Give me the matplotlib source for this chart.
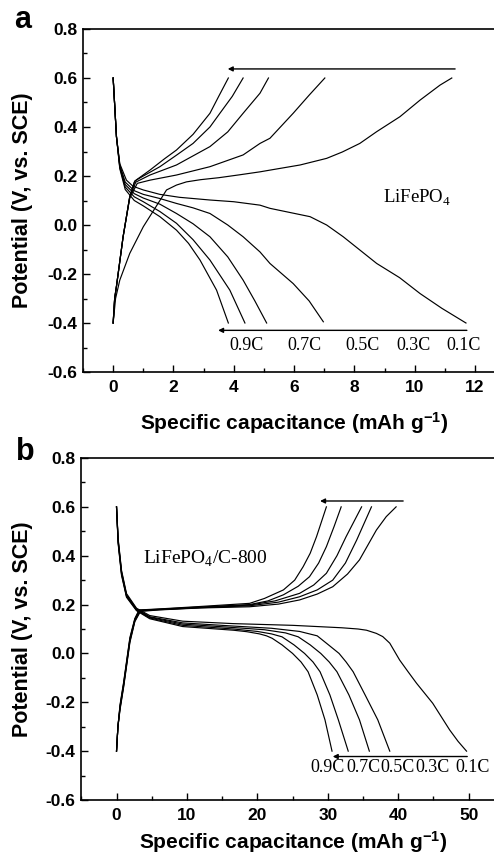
import matplotlib
matplotlib.use("Agg")
import matplotlib.pyplot as plt
from matplotlib.ticker import MultipleLocator

plt.rcParams["font.family"] = ["Liberation Sans", "DejaVu Sans"]
plt.rcParams["font.weight"] = "bold"
plt.rcParams["mathtext.fontset"] = "custom"
plt.rcParams["mathtext.rm"] = "Liberation Sans:bold"
plt.rcParams["mathtext.bf"] = "Liberation Sans:bold"
plt.rcParams["mathtext.it"] = "Liberation Sans:bold"

# ---------------- Panel a : LiFePO4 ----------------
rates = ["0.1C", "0.3C", "0.5C", "0.7C", "0.9C"]

a_dis_q_01 = [0, 0.11, 0.22, 0.44, 0.66, 1.0, 1.55, 2.2, 3.21, 4.0, 4.87, 5.2, 6.53, 7.08, 7.63, 8.74, 9.5, 10.18, 10.9, 11.7]
a_dis_v_01 = [0.6, 0.36, 0.25, 0.183, 0.158, 0.143, 0.125, 0.113, 0.102, 0.095, 0.081, 0.068, 0.034, 0.0, -0.048, -0.157, -0.215, -0.28, -0.34, -0.4]
a_dis_q_03 = [0, 0.11, 0.22, 0.4, 0.7, 1.0, 1.55, 2.1, 2.65, 3.21, 3.8, 4.31, 4.87, 5.2, 5.97, 6.5, 6.97]
a_dis_v_03 = [0.6, 0.36, 0.245, 0.175, 0.14, 0.125, 0.108, 0.088, 0.07, 0.047, 0.0, -0.048, -0.11, -0.157, -0.239, -0.31, -0.395]
a_dis_q_05 = [0, 0.11, 0.22, 0.4, 0.7, 1.0, 1.55, 2.1, 2.65, 3.21, 3.8, 4.31, 4.7, 5.09]
a_dis_v_05 = [0.6, 0.36, 0.24, 0.165, 0.128, 0.11, 0.085, 0.047, 0.005, -0.048, -0.13, -0.225, -0.31, -0.4]
a_dis_q_07 = [0, 0.11, 0.22, 0.4, 0.7, 1.0, 1.55, 2.1, 2.65, 3.21, 3.87, 4.37]
a_dis_v_07 = [0.6, 0.36, 0.235, 0.155, 0.115, 0.095, 0.055, 0.007, -0.06, -0.143, -0.266, -0.4]
a_dis_q_09 = [0, 0.11, 0.22, 0.4, 0.7, 1.0, 1.55, 2.1, 2.5, 2.88, 3.43, 3.82]
a_dis_v_09 = [0.6, 0.36, 0.23, 0.145, 0.1, 0.078, 0.034, -0.021, -0.075, -0.143, -0.266, -0.4]

a_chg_q_01 = [0, 0.08, 0.22, 0.55, 1.0, 1.55, 1.77, 2.1, 2.43, 2.9, 3.5, 4.2, 4.87, 5.2, 6.2, 7.08, 7.6, 8.18, 8.74, 9.51, 10.18, 10.84, 11.23]
a_chg_v_01 = [-0.4, -0.3, -0.225, -0.116, -0.007, 0.1, 0.143, 0.163, 0.176, 0.185, 0.193, 0.205, 0.217, 0.224, 0.245, 0.272, 0.298, 0.333, 0.381, 0.442, 0.51, 0.571, 0.6]
a_chg_q_03 = [0, 0.05, 0.11, 0.33, 0.55, 0.8, 1.22, 2.1, 3.21, 4.31, 4.87, 5.2, 5.97, 6.5, 7.02]
a_chg_v_03 = [-0.4, -0.3, -0.25, -0.048, 0.11, 0.17, 0.183, 0.204, 0.238, 0.286, 0.333, 0.354, 0.456, 0.53, 0.6]
a_chg_q_05 = [0, 0.05, 0.11, 0.33, 0.55, 0.75, 1.22, 2.1, 3.21, 3.8, 4.31, 4.87, 5.15]
a_chg_v_05 = [-0.4, -0.3, -0.25, -0.048, 0.115, 0.175, 0.204, 0.245, 0.32, 0.38, 0.456, 0.538, 0.6]
a_chg_q_07 = [0, 0.05, 0.11, 0.33, 0.55, 0.72, 1.0, 1.55, 2.1, 2.65, 3.21, 3.54, 3.95, 4.31]
a_chg_v_07 = [-0.4, -0.3, -0.25, -0.048, 0.115, 0.18, 0.2, 0.238, 0.285, 0.333, 0.4, 0.456, 0.525, 0.6]
a_chg_q_09 = [0, 0.05, 0.11, 0.33, 0.55, 0.7, 0.78, 1.22, 1.7, 2.1, 2.65, 3.21, 3.5, 3.82]
a_chg_v_09 = [-0.4, -0.3, -0.25, -0.048, 0.115, 0.175, 0.185, 0.224, 0.27, 0.306, 0.37, 0.456, 0.525, 0.6]

# ---------------- Panel b : LiFePO4/C-800 ----------------
b_dis_q_01 = [0, 0.23, 0.71, 1.42, 2.84, 4.72, 9.4, 16.6, 25.0, 32.0, 34.3, 35.5, 36.9, 37.8, 38.8, 40.2, 41.4, 42.6, 44.9, 47.3, 48.5, 49.7]
b_dis_v_01 = [0.6, 0.47, 0.34, 0.245, 0.185, 0.155, 0.132, 0.122, 0.115, 0.105, 0.1, 0.095, 0.082, 0.069, 0.042, -0.027, -0.075, -0.122, -0.204, -0.313, -0.36, -0.4]
b_dis_q_03 = [0, 0.23, 0.71, 1.42, 2.84, 4.72, 9.4, 16.6, 22.0, 26.0, 28.5, 30.1, 31.6, 32.6, 33.6, 35.3, 37.1, 38.8]
b_dis_v_03 = [0.6, 0.465, 0.335, 0.24, 0.182, 0.15, 0.125, 0.112, 0.103, 0.09, 0.072, 0.035, 0.0, -0.035, -0.075, -0.17, -0.272, -0.4]
b_dis_q_05 = [0, 0.23, 0.71, 1.42, 2.84, 4.72, 9.4, 16.6, 21.0, 24.0, 25.8, 27.5, 29.0, 30.2, 31.3, 33.0, 34.5, 35.9]
b_dis_v_05 = [0.6, 0.46, 0.33, 0.237, 0.18, 0.148, 0.12, 0.106, 0.097, 0.084, 0.068, 0.035, 0.0, -0.035, -0.075, -0.17, -0.272, -0.4]
b_dis_q_07 = [0, 0.23, 0.71, 1.42, 2.84, 4.72, 9.4, 16.6, 20.0, 22.0, 23.5, 25.2, 26.7, 27.9, 28.9, 30.3, 31.5, 32.9]
b_dis_v_07 = [0.6, 0.455, 0.325, 0.233, 0.177, 0.145, 0.115, 0.1, 0.09, 0.08, 0.068, 0.035, 0.0, -0.035, -0.075, -0.17, -0.272, -0.4]
b_dis_q_09 = [0, 0.23, 0.71, 1.42, 2.84, 4.72, 9.4, 16.6, 18.5, 20.3, 21.3, 22.1, 23.5, 25.0, 26.2, 27.2, 28.5, 29.6, 30.6]
b_dis_v_09 = [0.6, 0.45, 0.32, 0.23, 0.175, 0.142, 0.11, 0.095, 0.089, 0.08, 0.072, 0.062, 0.035, 0.0, -0.035, -0.075, -0.17, -0.272, -0.4]

b_chg_q_01 = [0, 0.2, 0.5, 1.0, 1.9, 2.6, 3.4, 6.0, 11.8, 18.9, 23.0, 26.0, 28.5, 30.7, 32.8, 34.5, 36.9, 38.3, 39.7]
b_chg_v_01 = [-0.4, -0.3, -0.23, -0.14, 0.045, 0.13, 0.172, 0.178, 0.186, 0.191, 0.202, 0.219, 0.243, 0.273, 0.325, 0.383, 0.505, 0.56, 0.6]
b_chg_q_03 = [0, 0.2, 0.5, 1.0, 1.9, 2.6, 3.35, 6.0, 11.8, 18.9, 23.0, 26.0, 28.5, 30.7, 32.5, 34.1, 36.2]
b_chg_v_03 = [-0.4, -0.3, -0.225, -0.135, 0.05, 0.133, 0.174, 0.179, 0.187, 0.195, 0.21, 0.232, 0.26, 0.30, 0.37, 0.464, 0.6]
b_chg_q_05 = [0, 0.2, 0.5, 1.0, 1.9, 2.6, 3.3, 6.0, 11.8, 18.9, 22.5, 26.0, 28.0, 29.8, 31.3, 32.6, 34.8]
b_chg_v_05 = [-0.4, -0.3, -0.22, -0.13, 0.055, 0.137, 0.176, 0.18, 0.188, 0.198, 0.215, 0.246, 0.28, 0.328, 0.4, 0.478, 0.6]
b_chg_q_07 = [0, 0.2, 0.5, 1.0, 1.9, 2.6, 3.25, 6.0, 11.8, 18.9, 21.5, 23.7, 25.8, 27.4, 28.7, 29.8, 30.9, 31.9]
b_chg_v_07 = [-0.4, -0.3, -0.215, -0.125, 0.06, 0.14, 0.177, 0.181, 0.19, 0.2, 0.215, 0.24, 0.275, 0.314, 0.37, 0.437, 0.52, 0.6]
b_chg_q_09 = [0, 0.2, 0.5, 1.0, 1.9, 2.6, 3.2, 6.0, 11.8, 18.9, 21.0, 23.7, 25.3, 26.5, 27.5, 28.4, 29.8]
b_chg_v_09 = [-0.4, -0.3, -0.21, -0.12, 0.065, 0.143, 0.178, 0.182, 0.192, 0.205, 0.225, 0.26, 0.3, 0.355, 0.41, 0.478, 0.6]

a_label_x = [11.61, 9.95, 8.27, 6.34, 4.41]
b_label_x = [50.6, 44.9, 39.9, 35.0, 30.0]

a_curves = [(a_dis_q_01, a_dis_v_01), (a_dis_q_03, a_dis_v_03), (a_dis_q_05, a_dis_v_05),
            (a_dis_q_07, a_dis_v_07), (a_dis_q_09, a_dis_v_09),
            (a_chg_q_01, a_chg_v_01), (a_chg_q_03, a_chg_v_03), (a_chg_q_05, a_chg_v_05),
            (a_chg_q_07, a_chg_v_07), (a_chg_q_09, a_chg_v_09)]
b_curves = [(b_dis_q_01, b_dis_v_01), (b_dis_q_03, b_dis_v_03), (b_dis_q_05, b_dis_v_05),
            (b_dis_q_07, b_dis_v_07), (b_dis_q_09, b_dis_v_09),
            (b_chg_q_01, b_chg_v_01), (b_chg_q_03, b_chg_v_03), (b_chg_q_05, b_chg_v_05),
            (b_chg_q_07, b_chg_v_07), (b_chg_q_09, b_chg_v_09)]

SERIF = "Liberation Serif"
yticks = [-0.6, -0.4, -0.2, 0.0, 0.2, 0.4, 0.6, 0.8]
ytick_labels = ["-0.6", "-0.4", "-0.2", "0.0", "0.2", "0.4", "0.6", "0.8"]

fig = plt.figure(figsize=(4.94, 8.56), dpi=100)
W, H = 494.0, 856.0


def make_axes(left_px, top_px, bottom_px, xlim, xticks, xmin, xlab_y, ylab_x):
    ax = fig.add_axes([left_px / W, 1 - bottom_px / H, 1 - left_px / W, (bottom_px - top_px) / H])
    ax.set_xlim(*xlim)
    ax.set_ylim(-0.6, 0.8)
    ax.spines["right"].set_visible(False)
    for s in ["left", "bottom", "top"]:
        ax.spines[s].set_linewidth(1.2)
    ax.set_xticks(xticks)
    ax.set_xticklabels([str(t) for t in xticks])
    ax.xaxis.set_minor_locator(MultipleLocator(xmin))
    ax.set_yticks(yticks)
    ax.set_yticklabels(ytick_labels)
    ax.yaxis.set_minor_locator(MultipleLocator(0.1))
    ax.tick_params(which="both", direction="in", top=False, right=False, width=1.0)
    ax.tick_params(which="major", length=5, labelsize=12.5)
    ax.tick_params(axis="x", which="major", pad=6)
    ax.tick_params(axis="y", which="major", pad=4)
    ax.tick_params(which="minor", length=3)
    ax.set_ylabel("Potential (V, vs. SCE)", fontsize=15.5, fontweight="bold")
    ax.yaxis.set_label_coords(ylab_x, 0.5)
    ax.yaxis.label.set_va("center")
    ax.set_xlabel("Specific capacitance (mAh g$^{-1}$)", fontsize=15, fontweight="bold")
    ax.xaxis.set_label_coords(0.513, xlab_y)
    ax.xaxis.label.set_va("center")
    return ax


# Panel a
axa = make_axes(83, 29, 372, (-1, 12.63), [0, 2, 4, 6, 8, 10, 12], 1, -0.149, -0.147)
for q, v in a_curves:
    axa.plot(q, v, color="black", lw=0.85)
axa.annotate("", xy=(3.8, 0.637), xytext=(11.34, 0.637),
             arrowprops=dict(arrowstyle="-|>", color="black", lw=1.0, mutation_scale=7, shrinkA=0, shrinkB=0))
axa.annotate("", xy=(3.48, -0.43), xytext=(11.73, -0.43),
             arrowprops=dict(arrowstyle="-|>", color="black", lw=1.0, mutation_scale=7, shrinkA=0, shrinkB=0))
for r, x in zip(rates, a_label_x):
    axa.text(x, -0.49, r, ha="center", va="center", fontsize=13, family=SERIF, fontweight="normal")
axa.text(8.95, 0.114, "LiFePO$_{\\mathregular{4}}$", ha="left", va="center", fontsize=13.5, family=SERIF,
         fontweight="normal")

# Panel b
axb = make_axes(81.3, 458, 800, (-5, 53.6), [0, 10, 20, 30, 40, 50], 5, -0.122, -0.142)
for q, v in b_curves:
    axb.plot(q, v, color="black", lw=0.85)
axb.annotate("", xy=(28.9, 0.624), xytext=(40.7, 0.624),
             arrowprops=dict(arrowstyle="-|>", color="black", lw=1.0, mutation_scale=7, shrinkA=0, shrinkB=0))
axb.annotate("", xy=(30.7, -0.422), xytext=(49.8, -0.422),
             arrowprops=dict(arrowstyle="-|>", color="black", lw=1.0, mutation_scale=7, shrinkA=0, shrinkB=0))
for r, x in zip(rates, b_label_x):
    axb.text(x, -0.465, r, ha="center", va="center", fontsize=13, family=SERIF, fontweight="normal")
axb.text(3.73, 0.39, "LiFePO$_{\\mathregular{4}}$/C-800", ha="left", va="center", fontsize=14, family=SERIF,
         fontweight="normal")

fig.text(22.5 / W, 1 - 28.3 / H, "a", fontsize=22, fontweight="bold", ha="center", va="baseline")
fig.text(25 / W, 1 - 460 / H, "b", fontsize=22, fontweight="bold", ha="center", va="baseline")

fig.savefig("out.png", dpi=100, facecolor="white")
